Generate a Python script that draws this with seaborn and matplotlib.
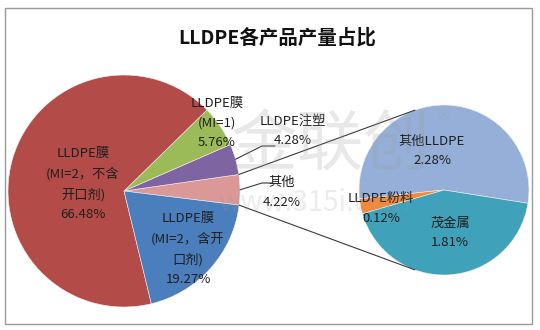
import matplotlib
matplotlib.use("Agg")
import matplotlib.pyplot as plt
import seaborn as sns
import numpy as np

sns.set_theme(style="white")
plt.rcParams['font.family'] = ['Noto Sans CJK SC', 'DejaVu Sans']

# ---------------- data ----------------
title = "LLDPE各产品产量占比"
main_labels = ["其他", "LLDPE注塑", "LLDPE膜\n(MI=1)",
               "LLDPE膜\n(MI=2，不含\n开口剂)", "LLDPE膜\n(MI=2，含开\n口剂)"]
main_values = [4.22, 4.28, 5.76, 66.48, 19.27]
main_colors = ["#DA9896", "#7F64A2", "#9BBB59", "#B34B48", "#4A7EBC"]

sub_labels = ["其他LLDPE", "LLDPE粉料", "茂金属"]
sub_values = [2.28, 0.12, 1.81]
sub_colors = ["#96AFD8", "#F08A3C", "#3FA2BA"]

# ---------------- layout (pixel space, y down converted) ----------------
W, H = 540, 330
fig = plt.figure(figsize=(W / 100, H / 100), dpi=100)
ax = fig.add_axes([0, 0, 1, 1])

def P(x, y):
    return x, H - y

# main pie
mc = P(124, 191)
mr = 116
wedges, _ = ax.pie(main_values, colors=main_colors, startangle=-7.0,
                   counterclock=True, center=mc, radius=mr, frame=True,
                   wedgeprops=dict(linewidth=0.4, edgecolor="#f0f0f0"))

# secondary pie
sc = P(444, 190)
sr = 85
wedges2, _ = ax.pie(sub_values, colors=sub_colors, startangle=-9,
                    counterclock=True, center=sc, radius=sr, frame=True,
                    wedgeprops=dict(linewidth=0.4, edgecolor="#f0f0f0"))
ax.set_xlim(0, W)
ax.set_ylim(0, H)
ax.set_aspect("equal")
ax.axis("off")

# border
ax.add_patch(plt.Rectangle(P(5, 324), 527, 316, fill=False, ec="#9a9a9a", lw=1.0, zorder=0))

# connector lines from "其他" wedge edges to secondary pie
w0 = wedges[0]
for ang, sang in [(w0.theta2, 110), (w0.theta1, -110)]:
    x0 = mc[0] + mr * np.cos(np.radians(ang))
    y0 = mc[1] + mr * np.sin(np.radians(ang))
    x1 = sc[0] + sr * np.cos(np.radians(sang))
    y1 = sc[1] + sr * np.sin(np.radians(sang))
    ax.plot([x0, x1], [y0, y1], color="#3a3a3a", lw=0.8, zorder=3)

def pct(v):
    return f"{v:.2f}%"

tc = "#1e1e1e"
fs = 9.5
ls = 1.7

def lab(x, y, s):
    ax.text(*P(x, y), s, ha="center", va="center", fontsize=fs, color=tc,
            linespacing=ls, zorder=5)

# main labels
lab(83, 184, main_labels[3] + "\n" + pct(main_values[3]))
lab(188, 249, main_labels[4] + "\n" + pct(main_values[4]))
lab(217, 123, main_labels[2] + "\n" + pct(main_values[2]))
lab(293, 131, main_labels[1] + "\n" + pct(main_values[1]))
lab(282, 192, main_labels[0] + "\n" + pct(main_values[0]))

# leader lines for small slices
for wi, (xe, ye), (xh, yh) in [(1, (262, 146), (275, 146)), (0, (262, 183), (272, 183))]:
    w = wedges[wi]
    mid = np.radians((w.theta1 + w.theta2) / 2)
    xs = mc[0] + mr * np.cos(mid)
    ys = mc[1] + mr * np.sin(mid)
    ax.plot([xs, P(xe, ye)[0], P(xh, yh)[0]], [ys, P(xe, ye)[1], P(xh, yh)[1]],
            color="#3a3a3a", lw=0.8, zorder=4)

# secondary labels
lab(432, 151, sub_labels[0] + "\n" + pct(sub_values[0]))
lab(381, 208, sub_labels[1] + "\n" + pct(sub_values[1]))
lab(450, 233, sub_labels[2] + "\n" + pct(sub_values[2]))

# title
ax.text(*P(277, 38), title, ha="center", va="center", fontsize=14, fontweight="bold",
        color="#111111", zorder=5)

# faint watermark
ax.text(*P(330, 147), "金联创", ha="center", va="center", fontsize=48, color="#9a9a9a",
        alpha=0.22, zorder=6)
ax.text(*P(443, 122), "®", ha="center", va="center", fontsize=18, color="#9a9a9a",
        alpha=0.22, zorder=6)
ax.text(*P(315, 203), "www.315i.com", ha="center", va="center", fontsize=20, color="#9a9a9a",
        alpha=0.18, zorder=6)

fig.savefig("out.png", dpi=100)
